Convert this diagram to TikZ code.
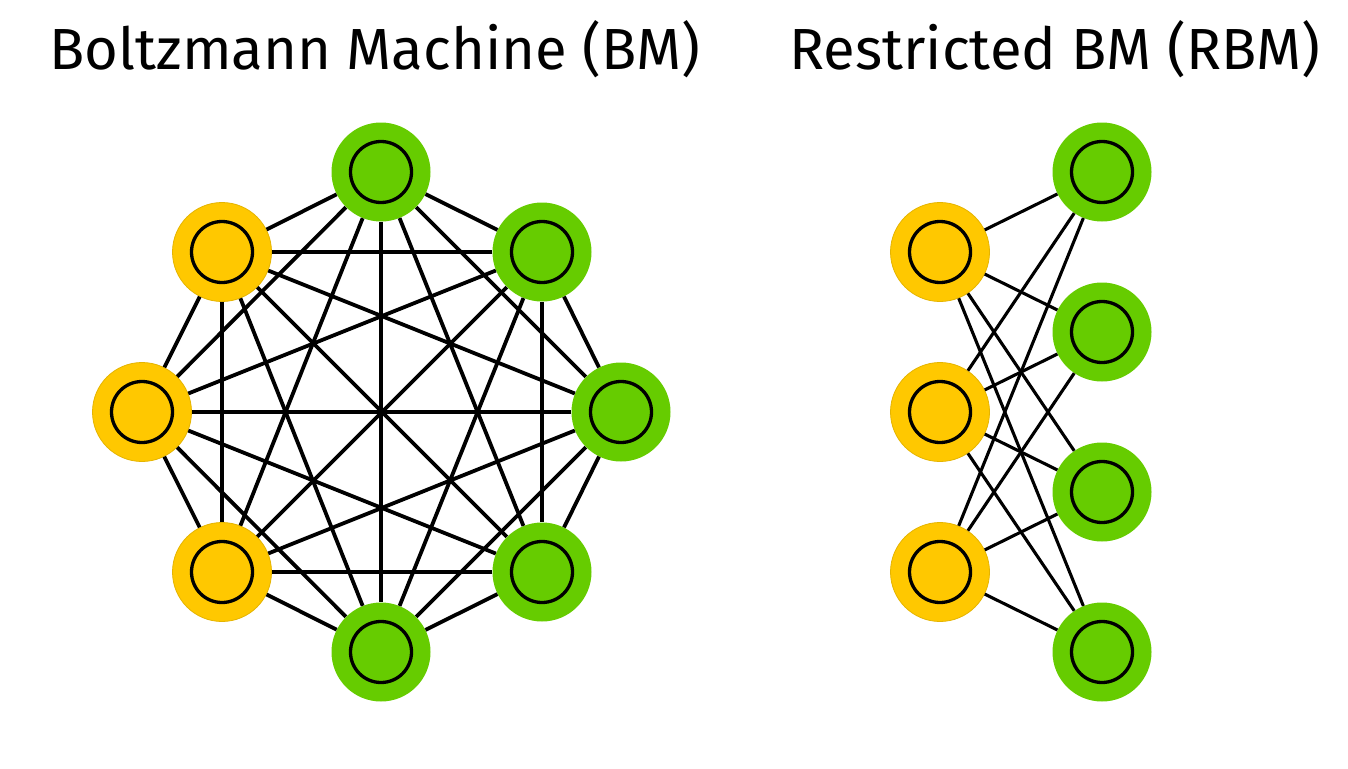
\documentclass[tikz,border=0pt]{standalone}
\usepackage{fontspec}
\setmainfont{Fira Sans}
\definecolor{visyellow}{HTML}{FFC800}
\definecolor{hidgreen}{HTML}{66CC00}
\tikzset{
  unit/.style={circle, minimum size=99pt, inner sep=0pt,
    path picture={\draw[draw=black, line width=3.3pt] (path picture bounding box.center) circle (30.5pt);}},
  visunit/.style={unit, fill=visyellow, draw=visyellow!90!black, line width=0.8pt},
  hidunit/.style={unit, fill=hidgreen},
  bmedge/.style={line width=3.8pt},
  rbmedge/.style={line width=3.1pt},
  title/.style={font=\fontsize{58}{60}\selectfont, anchor=base, inner sep=0pt},
}
\begin{document}
\begin{tikzpicture}[x=1pt, y=-1pt]
\useasboundingbox (0,0) rectangle (1348,768);

\node (bmtitle) at (375,70) [title] {Boltzmann Machine (BM)};
\node (rbmtitle) at (1055,70) [title] {Restricted BM (RBM)};

% Boltzmann machine
\node (b1) at (381,172) [hidunit] {};
\node (b2) at (542,252) [hidunit] {};
\node (b3) at (621,412) [hidunit] {};
\node (b4) at (542,572) [hidunit] {};
\node (b5) at (381,652) [hidunit] {};
\node (b6) at (222,572) [visunit] {};
\node (b7) at (142,412) [visunit] {};
\node (b8) at (222,252) [visunit] {};

\foreach \i in {1,...,7} {
  \pgfmathtruncatemacro\k{\i+1}
  \foreach \j in {\k,...,8}
    \draw [bmedge] (b\i) -- (b\j);
}

% restricted Boltzmann machine
\node (v1) at (940,252) [visunit] {};
\node (v2) at (940,412) [visunit] {};
\node (v3) at (940,572) [visunit] {};
\node (h1) at (1102,172) [hidunit] {};
\node (h2) at (1102,332) [hidunit] {};
\node (h3) at (1102,492) [hidunit] {};
\node (h4) at (1102,652) [hidunit] {};

\foreach \i in {1,2,3}
  \foreach \j in {1,...,4}
    \draw [rbmedge] (v\i) -- (h\j);

\end{tikzpicture}
\end{document}
